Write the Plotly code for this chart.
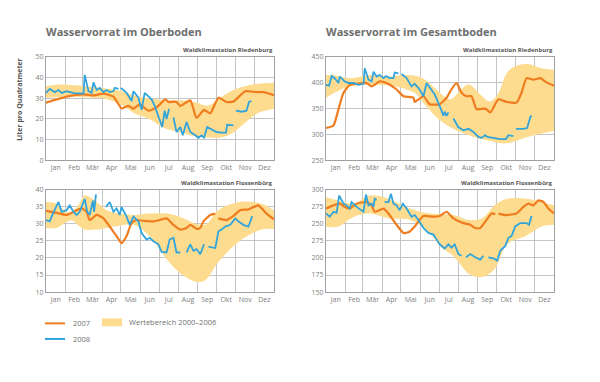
import pandas as pd
import plotly.graph_objects as go

# ---------------- data ----------------
MONTHS = ["Jan", "Feb", "Mär", "Apr", "Mai", "Jun", "Jul", "Aug", "Sep", "Okt", "Nov", "Dez"]

# Oberboden Riedenburg (l/m²)
tl_band_days = [0, 15, 33, 60, 90, 120, 140, 165, 190, 215, 240, 260, 280, 300, 320, 340, 365]
tl_band_hi = [35.8, 36.5, 36.6, 36.0, 35.0, 33.5, 31.5, 30.0, 29.0, 29.0, 28.0, 26.5, 30.5, 34.0, 36.0, 37.0, 37.5]
tl_band_lo = [30.3, 30.5, 31.0, 30.5, 30.0, 27.0, 23.0, 20.0, 15.5, 13.5, 11.5, 11.0, 11.0, 13.5, 18.5, 23.0, 25.0]
tl_o_days = [0, 33, 60, 76, 92, 108, 121, 132, 140, 150, 164, 177, 191, 196, 204, 209, 215, 231, 241, 253,
             263, 276, 289, 300, 319, 337, 348, 365]
tl_o_vals = [27.9, 30.8, 31.9, 31.4, 32.3, 30.8, 25.1, 26.3, 25.0, 27.1, 24.0, 25.6, 29.5, 28.2, 28.4, 28.2,
             26.3, 29.0, 20.5, 24.4, 22.7, 30.3, 28.2, 28.4, 33.4, 33.0, 33.0, 31.5]
tl_b_days = [0, 6, 14, 20, 25, 33, 45, 60, 62, 68, 73, 76, 81, 86, 92, 97, 102, 108, 110, 116, 118,
             120, 129, 137, 140, 148, 153, 158, 164, 169, 174, 180, 186, 190, 193, 197, 200,
             204, 209, 215, 219, 225, 231, 239, 244, 249, 253, 258, 265, 273, 281, 288, 290, 300, 302,
             304, 313, 321, 325, 329]
tl_b_vals = [32.6, 34.5, 33.0, 34.0, 32.6, 33.4, 32.5, 32.3, 41.3, 33.4, 32.6, 37.7, 34.0, 35.0, 33.0, 34.0,
             33.0, 33.5, 35.0, 34.5, None,
             35.0, 32.6, 28.7, 33.4, 30.3, 24.4, 32.6, 31.0, 29.5, 26.3, 20.8, 16.1, 24.0, 20.0, 24.8, None,
             20.8, 13.7, 16.1, 12.1, 18.5, 13.7, 12.1, 10.9, 12.1, 11.0, 16.1, 14.8, 13.7, 13.4, 13.4, 17.2,
             16.9, None,
             24.0, 23.5, 24.0, 28.2, 28.7]

# Gesamtboden Riedenburg
tr_band_days = [0, 12, 38, 70, 100, 129, 145, 160, 180, 199, 215, 228, 245, 262, 275, 290, 305, 325, 345, 365]
tr_band_hi = [415, 415, 409, 415, 412, 415, 413, 405, 383, 368, 385, 397, 380, 364, 378, 420, 433, 436, 428, 425]
tr_band_lo = [371, 380, 393, 396, 395, 387, 378, 355, 330, 314, 305, 299, 292, 288, 284, 283, 288, 296, 302, 307]
tr_o_days = [0, 12, 20, 28, 38, 49, 65, 73, 86, 97, 113, 124, 140, 142, 156, 166, 182, 193, 199, 209, 217,
             225, 233, 241, 255, 263, 276, 289, 305, 313, 321, 332, 343, 353, 365]
tr_o_vals = [312.5, 317.5, 349, 380.6, 396, 398, 399.6, 393, 402.7, 399.6, 387, 374, 371, 363, 374, 358.5,
             358.5, 371, 383.8, 399.6, 380.6, 374, 374, 349, 350, 342.8, 368, 363, 361.7, 380.6, 409, 405.9,
             409, 400.8, 394.5]
tr_b_days = [0, 5, 9, 14, 20, 22, 30, 36, 44, 52, 60, 62, 68, 73, 76, 81, 86, 92, 96, 102, 108, 110, 116, 118,
             121, 129, 137, 142, 150, 156, 161, 169, 174, 182, 188, 190, 193, 196, 200,
             204, 212, 220, 228, 236, 244, 249, 255, 258, 268, 279, 288, 292, 300, 302,
             304, 316, 322, 327, 329]
tr_b_vals = [396, 394.5, 413, 409, 399.6, 412, 402.7, 399.6, 399.6, 396, 398, 428, 405.9, 402.7, 421.6, 412,
             415, 409, 413, 409, 409, 419.7, 418, None,
             417, 409, 393, 398, 387, 374, 399.6, 387, 377.5, 355, 336.4, 344, 336, 342.8, None,
             331, 314, 308, 311, 305, 295.4, 293.5, 298.6, 295.4, 293.5, 291, 291, 298.6, 297, None,
             311, 311, 312.5, 333.3, 336.4]

# Oberboden Flossenbürg
bl_band_days = [0, 17, 33, 42, 52, 62, 80, 97, 120, 140, 166, 193, 215, 240, 255, 276, 310, 345, 365]
bl_band_hi = [36.4, 35.9, 33.5, 33.5, 35.5, 38.3, 36.5, 34.0, 33.0, 32.6, 33.0, 33.0, 32.0, 30.0, 29.7, 34.0,
              36.4, 35.9, 34.0]
bl_band_lo = [28.8, 28.8, 30.5, 31.0, 29.5, 28.3, 28.3, 28.8, 29.5, 29.7, 26.4, 19.7, 15.5, 13.0, 13.5, 18.8,
              25.0, 28.3, 28.5]
bl_o_days = [0, 17, 33, 44, 57, 65, 70, 81, 92, 102, 113, 121, 129, 137, 145, 156, 172, 182, 193, 204,
             215, 225, 231, 241, 247, 252, 263, 271, 273, 276, 289, 300, 311, 324, 340, 353, 365]
bl_o_vals = [33.8, 33.2, 32.6, 33.5, 34.5, 33.5, 31.1, 32.6, 31.6, 29.2, 26.4, 24.3, 26.4, 30.2, 31.1, 30.9,
             30.7, 31.1, 31.6, 29.7, 28.3, 28.8, 29.7, 28.5, 28.8, 30.7, 32.6, 33.0, None,
             31.6, 31.1, 32.3, 34.0, 34.2, 35.4, 33.0, 31.3]
bl_b_days = [0, 6, 11, 20, 25, 33, 38, 44, 49, 54, 62, 66, 70, 75, 77, 80, 88,
             96, 102, 108, 113, 118, 121, 129, 134, 140, 148, 153, 161, 166, 172, 180, 185, 193, 198, 204, 209,
             215, 220,
             225, 231, 236, 241, 247, 253, 256,
             260, 271, 276, 281, 287, 295, 303, 308, 316, 324, 328, 330]
bl_b_vals = [31.1, 30.7, 33.0, 36.4, 33.5, 34.0, 35.4, 33.5, 32.6, 33.5, 37.3, 33.5, 32.6, 36.8, 33.5, 38.6, None,
             34.9, 36.4, 33.5, 34.5, 32.6, 34.9, 32.1, 29.7, 32.1, 30.7, 27.3, 25.4, 25.9, 24.9, 24.0, 21.8,
             21.6, 25.4, 25.9, 21.6, 21.6, None,
             21.6, 24.0, 22.1, 22.6, 21.1, 24.0, None,
             23.3, 22.9, 27.8, 28.3, 29.2, 29.7, 31.6, 30.7, 29.7, 29.2, 31.1, 32.3]

# Gesamtboden Flossenbürg
br_band_days = [0, 20, 44, 70, 100, 135, 166, 185, 204, 230, 250, 270, 290, 320, 345, 365]
br_band_hi = [289, 284, 279.5, 291.4, 286.6, 272, 265, 264, 263, 255.7, 258, 277, 286.6, 286.6, 282, 277]
br_band_lo = [246, 246, 260, 265, 258, 255.7, 236.6, 215, 203, 176, 172, 184, 220, 232, 246, 248.5]
br_o_days = [0, 12, 22, 30, 38, 49, 65, 73, 78, 92, 100, 113, 124, 132, 142, 148, 156, 172, 182, 193, 204,
             220, 231, 239, 247, 257, 265, 271, 273, 276, 289, 305, 316, 324, 332, 340, 348, 356, 365]
br_o_vals = [272.3, 277, 279.5, 274.7, 272.3, 279.5, 281.8, 277, 267.6, 272.3, 265.2, 248.5, 236.6, 237.6,
             246.2, 253.3, 261.4, 260.4, 261.4, 267.6, 258, 251, 248.5, 243.8, 243.8, 255.7, 265.2, 264.2, None,
             265, 262.8, 265.2, 274.7, 279.5, 277, 284.2, 282, 272.3, 265.2]
br_b_days = [0, 6, 12, 17, 21, 28, 33, 38, 41, 49, 60, 64, 68, 73, 76, 78, 81, 88,
             94, 100, 104, 108, 113, 118, 123, 129, 137, 142, 148, 156, 164, 172, 177, 182, 190, 196, 201, 206,
             212, 217, 220,
             224, 231, 239, 247, 252, 256,
             260, 268, 274, 279, 287, 292, 297, 303, 311, 321, 325, 329]
br_b_vals = [265.2, 260.4, 267.6, 266, 291.4, 279.5, 277, 272.3, 281.8, 274.7, 267.6, 292.8, 277, 279.5, 274.7,
             286.6, 285, None,
             281.8, 281.8, 293.8, 279.5, 277, 270, 279.5, 272.3, 260.4, 262.8, 255.7, 243.8, 236.6, 234.2,
             227.2, 220, 213.8, 220, 215.2, 220, 205.7, 203.3, None,
             201, 205.7, 201, 197.6, 203.3, None,
             201, 199.5, 196.2, 210.5, 217.6, 229.5, 231.9, 246.2, 251, 251, 248.5, 261.4]

tl_yticks = [0, 10, 20, 30, 40, 50]
tr_yticks = [250, 300, 350, 400, 450]
bl_yticks = [10, 15, 20, 25, 30, 35, 40]
br_yticks = [150, 175, 200, 225, 250, 275, 300]
br_yticktext = ["150", "175", "200", "275", "250", "275", "300"]

# ---------------- styling ----------------
OFF = 8  # default body margin of the page
W, H = 600 - OFF, 382 - OFF
ORANGE = "#EF7D20"
BLUE = "#31A4DC"
BAND = "#FDDC8F"
GRID = "#C4C4C4"
FRAME = "#A0A0A0"
TICK = "#808080"
FONT = "Open Sans"
BASE = pd.Timestamp("2007-01-01")


def to_dates(days):
    return [BASE + pd.Timedelta(days=d) for d in days]


month_starts = pd.date_range("2007-01-01", periods=13, freq="MS")
month_mids = [month_starts[i] + (month_starts[i + 1] - month_starts[i]) / 2 for i in range(12)]


def px_x(p):
    return (p - OFF) / W


def px_y(p):
    return 1 - (p - OFF) / H


panels = [
    dict(name="", xd=(46, 274), yd=(53, 159), yr=(0, 50), yt=tl_yticks, ytt=None,
         band=(tl_band_days, tl_band_hi, tl_band_lo), o=(tl_o_days, tl_o_vals), b=(tl_b_days, tl_b_vals)),
    dict(name="2", xd=(326, 554), yd=(53, 159), yr=(250, 450), yt=tr_yticks, ytt=None,
         band=(tr_band_days, tr_band_hi, tr_band_lo), o=(tr_o_days, tr_o_vals), b=(tr_b_days, tr_b_vals)),
    dict(name="3", xd=(46, 274), yd=(189, 294), yr=(10, 40), yt=bl_yticks, ytt=None,
         band=(bl_band_days, bl_band_hi, bl_band_lo), o=(bl_o_days, bl_o_vals), b=(bl_b_days, bl_b_vals)),
    dict(name="4", xd=(326, 554), yd=(189, 294), yr=(150, 300), yt=br_yticks, ytt=br_yticktext,
         band=(br_band_days, br_band_hi, br_band_lo), o=(br_o_days, br_o_vals), b=(br_b_days, br_b_vals)),
]

fig = go.Figure()
layout_axes = {}
for p in panels:
    xa, ya = "x" + p["name"], "y" + p["name"]
    bd, bh, bl = p["band"]
    assert len(bd) == len(bh) == len(bl)
    assert len(p["o"][0]) == len(p["o"][1]) and len(p["b"][0]) == len(p["b"][1])
    fig.add_trace(go.Scatter(x=to_dates(bd), y=bl, mode="lines", line=dict(width=0, shape="spline"),
                             xaxis=xa, yaxis=ya, showlegend=False, hoverinfo="skip"))
    fig.add_trace(go.Scatter(x=to_dates(bd), y=bh, mode="lines", line=dict(width=0, shape="spline"),
                             fill="tonexty", fillcolor=BAND, xaxis=xa, yaxis=ya, showlegend=False,
                             name="Wertebereich 2000–2006"))
    fig.add_trace(go.Scatter(x=to_dates(p["o"][0]), y=p["o"][1], mode="lines",
                             line=dict(color=ORANGE, width=2.2, shape="spline", smoothing=0.5),
                             xaxis=xa, yaxis=ya, showlegend=False, name="2007"))
    fig.add_trace(go.Scatter(x=to_dates(p["b"][0]), y=p["b"][1], mode="lines",
                             line=dict(color=BLUE, width=1.8),
                             xaxis=xa, yaxis=ya, showlegend=False, name="2008"))

    layout_axes["xaxis" + p["name"]] = dict(
        domain=[px_x(p["xd"][0]), px_x(p["xd"][1])], anchor=ya, type="date",
        range=[month_starts[0], month_starts[12]],
        tickmode="array", tickvals=month_mids, ticktext=MONTHS, ticks="", showgrid=False,
        tickfont=dict(size=7, color=TICK, family=FONT),
        showline=True, mirror=True, linecolor=FRAME, linewidth=1, zeroline=False,
        minor=dict(dtick="M1", tick0="2007-01-01", showgrid=True, gridcolor=GRID, gridwidth=1, ticks=""),
        fixedrange=True,
    )
    ya_cfg = dict(
        domain=[px_y(p["yd"][1]), px_y(p["yd"][0])], anchor=xa, range=list(p["yr"]),
        tickmode="array", tickvals=p["yt"], ticks="", showgrid=True, gridcolor=GRID, gridwidth=1,
        tickfont=dict(size=7, color=TICK, family=FONT),
        showline=True, mirror=True, linecolor=FRAME, linewidth=1, zeroline=False, fixedrange=True,
    )
    if p["ytt"] is not None:
        ya_cfg["ticktext"] = p["ytt"]
    layout_axes["yaxis" + p["name"]] = ya_cfg

annotations = []
# panel titles
for x0, txt in [(46, "Wasservorrat im Oberboden"), (326, "Wasservorrat im Gesamtboden")]:
    annotations.append(dict(x=px_x(x0 - 2), y=px_y(27), xref="paper", yref="paper", text="<b>%s</b>" % txt,
                            showarrow=False, xanchor="left", yanchor="middle",
                            font=dict(size=11, color="#6E6E6E", family=FONT)))
# station labels
for x1, y0, txt in [(274, 46, "Waldklimastation Riedenburg"), (554, 46, "Waldklimastation Riedenburg"),
                    (274, 182, "Waldklimastation Flossenbürg"), (554, 182, "Waldklimastation Flossenbürg")]:
    annotations.append(dict(x=px_x(x1 + 1), y=px_y(y0), xref="paper", yref="paper", text="<b>%s</b>" % txt,
                            showarrow=False, xanchor="right", yanchor="middle",
                            font=dict(size=6, color="#555555", family=FONT)))
# y title
annotations.append(dict(x=px_x(20), y=px_y(97), xref="paper", yref="paper", text="<b>Liter pro Quadratmeter</b>",
                        textangle=-90, showarrow=False, xanchor="center", yanchor="middle",
                        font=dict(size=7, color="#555555", family=FONT)))
# legend texts
for x0, y0, txt in [(71, 326, "2007"), (71, 342, "2008"), (127, 325, "Wertebereich 2000–2006")]:
    annotations.append(dict(x=px_x(x0), y=px_y(y0), xref="paper", yref="paper", text=txt,
                            showarrow=False, xanchor="left", yanchor="middle",
                            font=dict(size=7.5, color="#707070", family=FONT)))

shapes = [
    dict(type="line", xref="paper", yref="paper", x0=px_x(45), x1=px_x(65), y0=px_y(326), y1=px_y(326),
         line=dict(color=ORANGE, width=2)),
    dict(type="line", xref="paper", yref="paper", x0=px_x(45), x1=px_x(65), y0=px_y(342), y1=px_y(342),
         line=dict(color=BLUE, width=2)),
    dict(type="rect", xref="paper", yref="paper", x0=px_x(102), x1=px_x(122), y0=px_y(329), y1=px_y(321),
         line=dict(width=0), fillcolor=BAND),
]

fig.update_layout(
    width=W, height=H, margin=dict(l=0, r=0, t=0, b=0),
    paper_bgcolor="white", plot_bgcolor="white",
    showlegend=False, annotations=annotations, shapes=shapes,
    font=dict(family=FONT),
    **layout_axes,
)

fig.write_html("out.html")
